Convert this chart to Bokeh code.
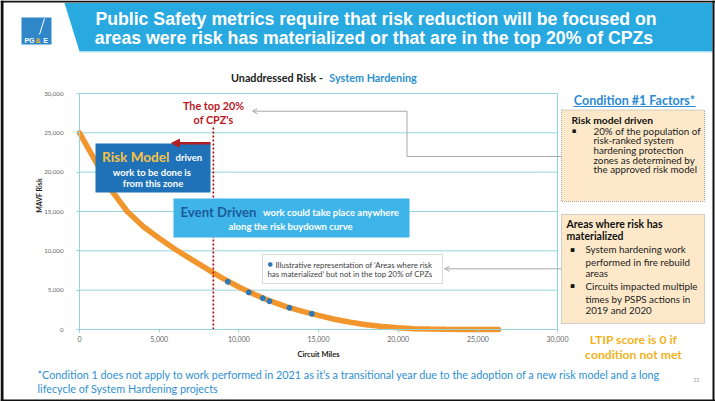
import math
from bokeh.plotting import figure
from bokeh.models import (Range1d, Label, BoxAnnotation, Arrow, LinearAxis,
                          NormalHead, OpenHead, FixedTicker, NumeralTickFormatter)
from bokeh.embed import file_html
from bokeh.resources import INLINE

# ---------------- data ----------------
circuit_miles = [0, 1000, 2000, 3000, 4000, 5000, 6000, 7000, 8000, 8400, 9000,
                 10000, 11000, 12000, 13000, 14000, 15000, 16000, 17000, 18000,
                 19000, 20000, 21000, 22000, 23000, 24000, 25000, 26300]
mavf_risk = [25000, 21400, 17700, 15000, 13100, 11600, 10200, 8950, 7700, 7200, 6500,
             5400, 4450, 3600, 2880, 2300, 1800, 1300, 920, 600,
             370, 210, 110, 50, 20, 10, 5, 0]
dot_miles = [9310, 10625, 11505, 11920, 13175, 14580]
dot_risk = [6070, 4710, 3980, 3600, 2760, 2000]
top20_miles = 8400
top20_line_top = 25800
x_ticks = [0, 5000, 10000, 15000, 20000, 25000, 30000]
y_ticks = [0, 5000, 10000, 15000, 20000, 25000, 30000]
x_max = 30000
y_max = 30000

# ---------------- layout: whole canvas is the frame ----------------
W, H = 715, 401
FL, FR, FT, FB = 79, 557, 93, 329          # chart area in page pixels
sx = x_max / (FR - FL)
sy = y_max / (FB - FT)
p = figure(width=W, height=H, output_backend="svg", toolbar_location=None,
           x_axis_type=None, y_axis_type=None, min_border=0,
           x_range=Range1d(-FL * sx, (W - FL) * sx),
           y_range=Range1d(-(H - FB) * sy, FB * sy))
p.extra_x_ranges = {"px": Range1d(0, W)}
p.extra_y_ranges = {"py": Range1d(-H, 0)}
p.outline_line_color = None
p.background_fill_color = "white"
p.border_fill_color = "white"

TEAL = "#93d3db"
# header banner (page pixel coordinates)
p.patch(x=[64, 712, 712, 79], y=[-2.5, -2.5, -51, -51], x_range_name="px", y_range_name="py",
        fill_color="#28a9e0", line_color=None)
p.segment(x0=[79], y0=[-51.5], x1=[712], y1=[-51.5], x_range_name="px", y_range_name="py",
          line_color="#bfe6f6", line_width=1)

# grid lines and right border of the chart
p.segment(x0=[0] * len(y_ticks), y0=y_ticks, x1=[x_max] * len(y_ticks), y1=y_ticks,
          line_color=TEAL, line_width=1)
p.segment(x0=[x_max], y0=[0], x1=[x_max], y1=[y_max], line_color=TEAL, line_width=1)

xaxis = LinearAxis(fixed_location=0, bounds=(0, x_max), ticker=FixedTicker(ticks=x_ticks),
                   formatter=NumeralTickFormatter(format="0,0"))
yaxis = LinearAxis(fixed_location=0, bounds=(0, y_max), ticker=FixedTicker(ticks=y_ticks),
                   formatter=NumeralTickFormatter(format="0,0"))
for ax in (xaxis, yaxis):
    ax.axis_line_color = TEAL
    ax.major_tick_line_color = TEAL
    ax.major_tick_out = 3
    ax.major_tick_in = 0
    ax.minor_tick_line_color = None
    ax.major_label_text_color = "#666666"
    ax.major_label_text_font = "Lato"
xaxis.major_label_text_font_size = "7px"
yaxis.major_label_text_font_size = "6.2px"
xaxis.major_label_standoff = 3
yaxis.major_label_standoff = 13
p.add_layout(xaxis, "below")
p.add_layout(yaxis, "left")

# ---------------- data marks ----------------
p.line(circuit_miles, mavf_risk, line_width=5.5, line_color="#f1962d", line_cap="round")
p.segment(x0=[top20_miles], y0=[0], x1=[top20_miles], y1=[top20_line_top],
          line_color="#b00000", line_width=1.6, line_dash="2 2")
p.scatter(dot_miles, dot_risk, size=5, fill_color="#2b79b9", line_color="#2b79b9")


# ---------------- helpers (page pixel coordinates) ----------------
def box(x0, y0, x1, y1, fill, line=None, dash="solid", lw=1):
    p.add_layout(BoxAnnotation(left=x0, right=x1, top=-y0, bottom=-y1,
                               x_range_name="px", y_range_name="py",
                               fill_color=fill, fill_alpha=1.0,
                               line_color=line if line else "white",
                               line_alpha=1.0 if line else 0.0,
                               line_width=lw, line_dash=dash))


def txt(x, y, text, size, color, bold=False, align="left", font="Lato", angle=0):
    p.add_layout(Label(x=x, y=-y, text=text, x_range_name="px", y_range_name="py",
                       text_font=font, text_font_size=f"{size}px",
                       text_font_style="bold" if bold else "normal",
                       text_color=color, text_align=align, text_baseline="middle",
                       angle=angle))


def seg(x0, y0, x1, y1, color, lw=1, head=None):
    p.add_layout(Arrow(x_start=x0, y_start=-y0, x_end=x1, y_end=-y1,
                       x_range_name="px", y_range_name="py",
                       line_color=color, line_width=lw, end=head))


# ---------------- slide border + header text ----------------
seg(1.5, 0, 1.5, 401, "#111111", 3)
seg(0, 1, 715, 1, "#111111", 2)
seg(713, 0, 713, 401, "#111111", 2)
seg(0, 400, 715, 400, "#111111", 2)
txt(375.5, 18.5, "Public Safety metrics require that risk reduction will be focused on",
    17.7, "white", bold=True, align="center", font="Liberation Sans")
txt(373.5, 37, "areas were risk has materialized or that are in the top 20% of CPZs",
    17.7, "white", bold=True, align="center", font="Liberation Sans")
# logo
box(21, 17, 51, 44, "#2f86c8")
seg(44, 18, 39, 34, "white", 1)
txt(29, 39.5, "PG", 7, "white", bold=True, align="center", font="Liberation Sans")
txt(37.5, 39.5, "&", 7, "#f4b324", bold=True, align="center", font="Liberation Sans")
txt(45, 39.5, "E", 7, "white", bold=True, align="center", font="Liberation Sans")

# ---------------- chart title / axis titles ----------------
txt(276.5, 77, "Unaddressed Risk -", 10.8, "#222222", bold=True, align="center")
txt(372.5, 77, "System Hardening", 10.8, "#2b8fd0", bold=True, align="center")
txt(38, 195, "MAVF Risk", 7, "#222222", bold=True, align="center", angle=math.pi / 2)
txt(318, 354, "Circuit Miles", 7.5, "#222222", bold=True, align="center")

# ---------------- top 20% annotation ----------------
txt(213, 104.5, "The top 20%", 10.8, "#b8191f", bold=True, align="center")
txt(213, 119, "of CPZ's", 10.8, "#b8191f", bold=True, align="center")

# risk model box
box(95, 143, 210, 192, "#1f72b8")
seg(210, 142.7, 171, 142.7, "#b01f24", 2.5,
    NormalHead(size=8, fill_color="#b01f24", line_color="#b01f24"))
txt(101.5, 156, "Risk Model", 13.6, "#f7c244", bold=True)
txt(175, 157, "driven", 9.5, "white", bold=True)
txt(152.5, 171.5, "work  to be done is", 9.5, "white", bold=True, align="center")
txt(152.5, 183, "from this zone", 9.5, "white", bold=True, align="center")

# event driven box
box(173, 198, 409, 237, "#3fb4e8")
txt(180, 211, "Event Driven", 13.2, "#1b5b9c", bold=True)
txt(262.5, 212, "work could take place anywhere", 9.5, "white", bold=True)
txt(290, 225.5, "along the risk buydown curve", 9.5, "white", bold=True, align="center")

# dots callout
box(262, 254, 442, 283, "white", "#d9d9d9")
p.add_layout(Label(x=269.5, y=-262.7, text="\u25CF", x_range_name="px", y_range_name="py",
                   text_font="DejaVu Sans", text_font_size="6px", text_color="#2b79b9",
                   text_align="center", text_baseline="middle"))
txt(275, 264, "Illustrative representation of \u2018Areas where risk", 7.8, "#404040")
txt(267, 273.5, "has materialized\u2019 but not in the top 20% of CPZs", 7.8, "#404040")

# connectors
GRAY = "#a9a9a9"
seg(561, 156, 406.5, 156, GRAY)
seg(406.5, 156, 406.5, 110.7, GRAY)
seg(406.5, 110.7, 252, 110.7, GRAY, 1, OpenHead(size=5, line_color=GRAY, line_width=1))
seg(561, 268.3, 444, 268.3, GRAY, 1, OpenHead(size=5, line_color=GRAY, line_width=1))

# ---------------- right panel ----------------
txt(634, 100, "Condition #1 Factors*", 12.5, "#2a8ad2", bold=True, align="center")
seg(573, 106, 695, 106, "#2a8ad2", 1)

box(561, 109.5, 704, 201, "#fde9c9", "#a6a6a6", "1 1")
txt(571, 119.5, "Risk model driven", 10.3, "#111111", bold=True)
txt(573.5, 130, "\u25AA", 7, "#111111", font="DejaVu Sans", align="center")
for yy, line in zip([130, 139.5, 149.3, 159, 168.3],
                    ["20% of the population of", "risk-ranked system",
                     "hardening protection", "zones as determined by",
                     "the approved risk model"]):
    txt(593, yy, line, 9.8, "#222222")

box(561, 214, 704, 323, "#fde9c9", "#a6a6a6", "1 1")
txt(566, 223.5, "Areas where risk has", 10.5, "#111111", bold=True)
txt(566, 235, "materialized", 10.5, "#111111", bold=True)
txt(572, 248.5, "\u25AA", 7.5, "#111111", font="DejaVu Sans", align="center")
txt(572, 285, "\u25AA", 7.5, "#111111", font="DejaVu Sans", align="center")
for yy, line in zip([248.5, 261, 272.7, 285, 298, 309.5],
                    ["System hardening work", "performed in fire rebuild", "areas",
                     "Circuits impacted multiple", "times by PSPS actions in",
                     "2019 and 2020"]):
    txt(585, yy, line, 9.8, "#222222")

txt(633, 338.5, "LTIP score is 0 if", 12.2, "#f2b21b", bold=True, align="center")
txt(633, 353.5, "condition not met", 12.2, "#f2b21b", bold=True, align="center")

# ---------------- footer ----------------
txt(37, 374, "*Condition 1 does not apply to work performed in 2021 as it\u2019s a transitional "
    "year due to the adoption of a new risk model and a long", 10.8, "#2f8fd0")
txt(37, 388, "lifecycle of System Hardening projects", 10.8, "#2f8fd0")
txt(696, 379, "22", 5, "#999999", align="center")

open("out.html", "w").write(file_html(p, INLINE))
